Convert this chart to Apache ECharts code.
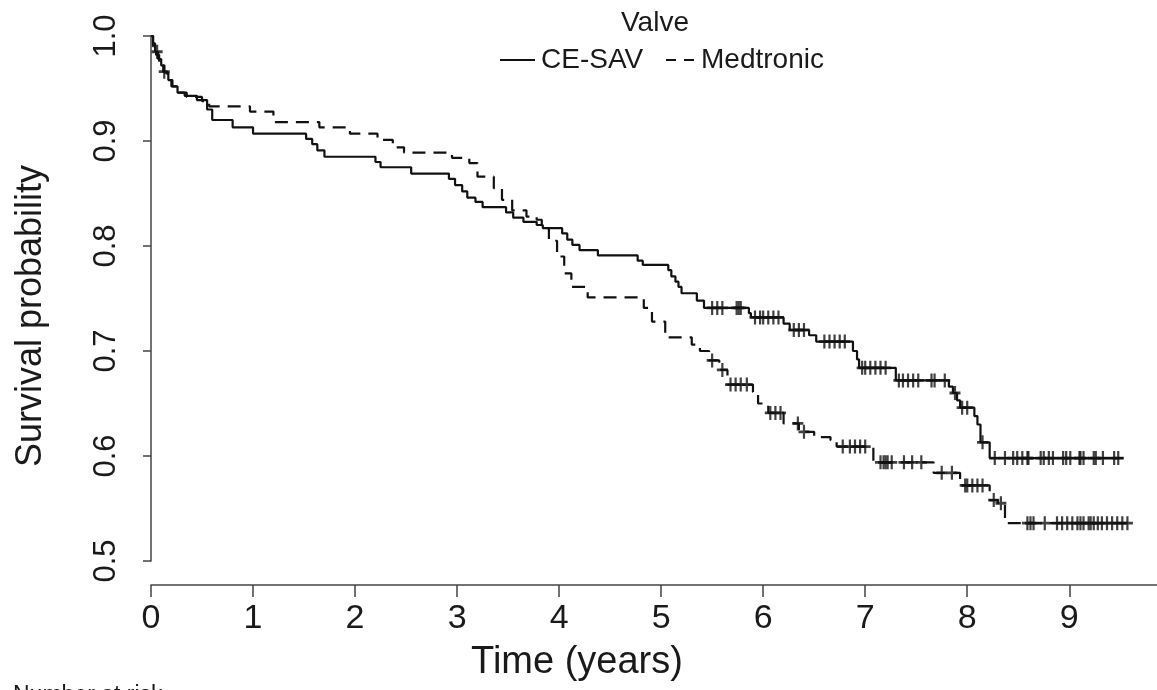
<!DOCTYPE html>
<html>
<head>
<meta charset="utf-8">
<script src="https://cdn.jsdelivr.net/npm/echarts@6/dist/echarts.min.js"></script>
<style>
  html, body { margin: 0; padding: 0; background: #fff; }
  #chart { width: 1157px; height: 690px; }
</style>
</head>
<body>
<div id="chart"></div>
<script>
// ---- Data ----
var xTicks = [0, 1, 2, 3, 4, 5, 6, 7, 8, 9];
var yTicks = [0.5, 0.6, 0.7, 0.8, 0.9, 1.0];
var legendTitle = 'Valve';
var seriesNames = ['CE-SAV', 'Medtronic'];

// Kaplan-Meier steps: [time (years), survival after drop]
var ceSavSteps = [
  [0, 1.0], [0.02, 0.993], [0.04, 0.985], [0.07, 0.978], [0.1, 0.972], [0.13, 0.965],
  [0.17, 0.958], [0.21, 0.952], [0.26, 0.946], [0.33, 0.943], [0.45, 0.939], [0.55, 0.93],
  [0.6, 0.92], [0.8, 0.913], [1.0, 0.907], [1.52, 0.902], [1.58, 0.897], [1.63, 0.891],
  [1.7, 0.885], [2.2, 0.88], [2.25, 0.875], [2.55, 0.869], [2.92, 0.864], [2.98, 0.858],
  [3.05, 0.852], [3.1, 0.846], [3.18, 0.842], [3.25, 0.837], [3.48, 0.832], [3.55, 0.827],
  [3.65, 0.823], [3.78, 0.82], [3.84, 0.817], [4.03, 0.812], [4.08, 0.806], [4.13, 0.801],
  [4.2, 0.796], [4.38, 0.791], [4.77, 0.786], [4.82, 0.782], [5.07, 0.777], [5.1, 0.771],
  [5.14, 0.766], [5.17, 0.761], [5.2, 0.755], [5.35, 0.748], [5.42, 0.741], [5.86, 0.736],
  [5.88, 0.732], [6.2, 0.726], [6.26, 0.72], [6.45, 0.715], [6.52, 0.709], [6.88, 0.70],
  [6.92, 0.692], [6.94, 0.684], [7.3, 0.672], [7.82, 0.666], [7.86, 0.66], [7.9, 0.653],
  [7.93, 0.646], [8.07, 0.638], [8.1, 0.63], [8.13, 0.613], [8.22, 0.598], [9.53, 0.598]
];
var ceSavCensor = [
  0.06, 5.5, 5.55, 5.6, 5.74, 5.76, 5.78, 5.92, 5.97, 6.0, 6.05, 6.1, 6.15,
  6.3, 6.35, 6.4, 6.6, 6.65, 6.7, 6.75, 6.8, 6.97, 7.0, 7.05, 7.1, 7.15, 7.2,
  7.33, 7.37, 7.42, 7.47, 7.52, 7.65, 7.68, 7.78, 7.88, 7.95, 8.0, 8.15,
  8.27, 8.37, 8.45, 8.49, 8.54, 8.59, 8.6, 8.72, 8.75, 8.8, 8.84, 8.94, 8.97,
  9.01, 9.1, 9.11, 9.14, 9.24, 9.26, 9.33, 9.44, 9.48
];

var medtronicSteps = [
  [0, 1.0], [0.02, 0.99], [0.05, 0.982], [0.08, 0.975], [0.12, 0.966], [0.16, 0.958],
  [0.2, 0.952], [0.27, 0.946], [0.35, 0.942], [0.5, 0.938], [0.57, 0.933], [0.97, 0.928],
  [1.2, 0.918], [1.65, 0.913], [1.95, 0.907], [2.22, 0.901], [2.37, 0.894], [2.48, 0.889],
  [2.95, 0.884], [3.12, 0.879], [3.2, 0.866], [3.36, 0.855], [3.44, 0.844], [3.54, 0.834],
  [3.68, 0.828], [3.78, 0.825], [3.83, 0.817], [3.9, 0.805], [3.98, 0.79], [4.05, 0.774],
  [4.12, 0.761], [4.28, 0.751], [4.83, 0.741], [4.91, 0.728], [5.04, 0.713], [5.3, 0.706],
  [5.38, 0.70], [5.47, 0.691], [5.57, 0.682], [5.65, 0.668], [5.9, 0.661], [5.95, 0.65],
  [6.05, 0.641], [6.2, 0.631], [6.35, 0.623], [6.5, 0.618], [6.66, 0.615], [6.72, 0.609],
  [7.08, 0.594], [7.67, 0.584], [7.93, 0.572], [8.22, 0.558], [8.3, 0.555], [8.37, 0.536],
  [9.62, 0.536]
];
var medtronicCensor = [
  0.13, 5.5, 5.6, 5.68, 5.73, 5.78, 5.84, 6.07, 6.12, 6.17, 6.34, 6.4, 6.78, 6.85,
  6.9, 6.95, 7.0, 7.15, 7.18, 7.2, 7.22, 7.26, 7.38, 7.46, 7.55, 7.75, 7.85,
  7.98, 8.0, 8.05, 8.1, 8.15, 8.26, 8.33, 8.59, 8.62, 8.65, 8.76, 8.88, 8.93, 8.98,
  9.03, 9.08, 9.11, 9.14, 9.19, 9.21, 9.24, 9.28, 9.32, 9.37, 9.42, 9.47, 9.52, 9.57
];

// ---- helpers ----
function survivalAt(steps, t) {
  var s = steps[0][1];
  for (var i = 0; i < steps.length; i++) {
    if (steps[i][0] <= t) s = steps[i][1]; else break;
  }
  return s;
}
function censorPoints(steps, times) {
  return times.map(function (t) { return [t, survivalAt(steps, t)]; });
}

var INK = '#111';
var AXIS = '#444';
var TEXT = '#1a1a1a';
var FONT = '"Liberation Sans", Arial, sans-serif';
var plusPath = 'path://M4,0H6V4H10V6H6V10H4V6H0V4H4Z';

var chart = echarts.init(document.getElementById('chart'), null, { renderer: 'canvas' });

var option = {
  animation: false,
  backgroundColor: '#fff',
  grid: { left: 151, right: 0, top: 36, bottom: 129, containLabel: false },
  xAxis: {
    type: 'value',
    min: 0, max: 9.86, interval: 1,
    offset: 24,
    axisLine: { show: true, lineStyle: { color: AXIS, width: 1.5 } },
    axisTick: { show: true, length: 12, lineStyle: { color: AXIS, width: 1.5 } },
    splitLine: { show: false },
    axisLabel: {
      margin: 17, color: TEXT, fontSize: 34, fontFamily: FONT,
      showMaxLabel: false,
      formatter: function (v) { return xTicks.indexOf(Math.round(v)) >= 0 && Math.abs(v - Math.round(v)) < 1e-6 ? String(Math.round(v)) : ''; }
    }
  },
  yAxis: {
    type: 'value',
    min: 0.5, max: 1.0, interval: 0.1,
    axisLine: { show: true, lineStyle: { color: AXIS, width: 1.5 } },
    axisTick: { show: true, length: 8, lineStyle: { color: AXIS, width: 1.5 } },
    splitLine: { show: false },
    axisLabel: {
      rotate: 90, margin: 29, color: TEXT, fontSize: 31, fontFamily: FONT,
      formatter: function (v) { return yTicks.indexOf(Math.round(v * 10) / 10) >= 0 ? v.toFixed(1) : ''; }
    }
  },
  series: [
    {
      name: seriesNames[0], type: 'line', step: 'end', showSymbol: false, symbol: 'none',
      data: ceSavSteps, lineStyle: { color: INK, width: 2.2 }, z: 3
    },
    {
      name: seriesNames[1], type: 'line', step: 'end', showSymbol: false, symbol: 'none',
      data: medtronicSteps, lineStyle: { color: INK, width: 2.2, type: [13, 8] }, z: 3
    },
    {
      name: seriesNames[0] + ' censored', type: 'scatter', symbol: plusPath, symbolSize: [11, 14],
      data: censorPoints(ceSavSteps, ceSavCensor), itemStyle: { color: INK }, z: 4
    },
    {
      name: seriesNames[1] + ' censored', type: 'scatter', symbol: plusPath, symbolSize: [11, 14],
      data: censorPoints(medtronicSteps, medtronicCensor), itemStyle: { color: INK }, z: 4
    }
  ],
  graphic: [
    { type: 'text', x: 655, y: 23, style: { text: legendTitle, font: '28px ' + FONT, fill: TEXT, align: 'center', verticalAlign: 'middle' } },
    { type: 'line', shape: { x1: 500, y1: 60, x2: 535, y2: 60 }, style: { stroke: INK, lineWidth: 2.2 } },
    { type: 'text', x: 541, y: 60, style: { text: seriesNames[0], font: '28px ' + FONT, fill: TEXT, align: 'left', verticalAlign: 'middle' } },
    { type: 'line', shape: { x1: 666, y1: 60, x2: 700, y2: 60 }, style: { stroke: INK, lineWidth: 2.2, lineDash: [10, 8] } },
    { type: 'text', x: 701, y: 60, style: { text: seriesNames[1], font: '28px ' + FONT, fill: TEXT, align: 'left', verticalAlign: 'middle' } },
    { type: 'text', x: 577, y: 663, style: { text: 'Time (years)', font: '38px ' + FONT, fill: TEXT, align: 'center', verticalAlign: 'middle' } },
    { type: 'text', x: 31, y: 316, rotation: Math.PI / 2, style: { text: 'Survival probability', font: '36px ' + FONT, fill: TEXT, align: 'center', verticalAlign: 'middle' } },
    { type: 'text', x: 13, y: 684, style: { text: 'Number at risk', font: '23px ' + FONT, fill: TEXT, align: 'left', verticalAlign: 'top' } }
  ]
};
chart.setOption(option);
</script>
</body>
</html>
